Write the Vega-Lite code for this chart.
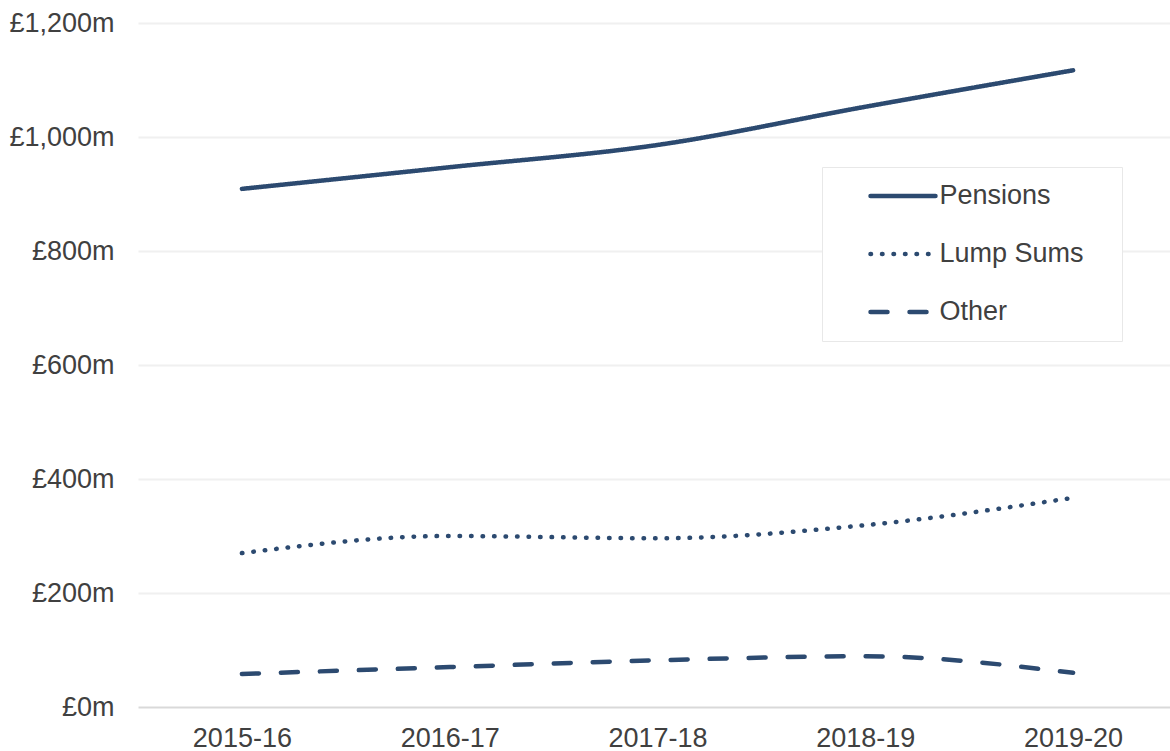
{
  "$schema": "https://vega.github.io/schema/vega-lite/v6.json",
  "width": 1039,
  "height": 684,
  "autosize": {"type": "none"},
  "padding": {"left": 138, "top": 23, "right": 0, "bottom": 44},
  "background": "white",
  "config": {
    "view": {"stroke": null},
    "font": "Liberation Sans"
  },
  "data": {
    "values": [
      {"year": "2015-16", "series": "Pensions", "value": 909},
      {"year": "2016-17", "series": "Pensions", "value": 947},
      {"year": "2017-18", "series": "Pensions", "value": 986},
      {"year": "2018-19", "series": "Pensions", "value": 1053},
      {"year": "2019-20", "series": "Pensions", "value": 1117},
      {"year": "2015-16", "series": "Lump Sums", "value": 270},
      {"year": "2016-17", "series": "Lump Sums", "value": 300},
      {"year": "2017-18", "series": "Lump Sums", "value": 296},
      {"year": "2018-19", "series": "Lump Sums", "value": 319},
      {"year": "2019-20", "series": "Lump Sums", "value": 367},
      {"year": "2015-16", "series": "Other", "value": 58},
      {"year": "2016-17", "series": "Other", "value": 70},
      {"year": "2017-18", "series": "Other", "value": 82},
      {"year": "2018-19", "series": "Other", "value": 89},
      {"year": "2019-20", "series": "Other", "value": 60}
    ]
  },
  "mark": {"type": "line", "interpolate": "monotone", "strokeWidth": 4.5, "strokeCap": "round", "color": "#2c4a70"},
  "encoding": {
    "x": {
      "field": "year", "type": "ordinal",
      "scale": {"type": "point", "padding": 0.5},
      "axis": {
        "title": null, "labelAngle": 0, "domain": false, "ticks": false,
        "labelFontSize": 27, "labelColor": "#404040", "labelPadding": 18, "grid": false
      }
    },
    "y": {
      "field": "value", "type": "quantitative",
      "scale": {"domain": [0, 1200], "nice": false},
      "axis": {
        "title": null, "values": [0, 200, 400, 600, 800, 1000, 1200],
        "labelExpr": "'£' + format(datum.value, ',') + 'm'",
        "domain": false, "ticks": false,
        "labelFontSize": 27, "labelColor": "#404040", "labelPadding": 24,
        "gridColor": {"condition": {"test": "datum.value === 0", "value": "#d9d9d9"}, "value": "#f0f0f0"},
        "gridWidth": 2
      }
    },
    "strokeDash": {
      "field": "series", "type": "nominal",
      "scale": {"domain": ["Pensions", "Lump Sums", "Other"], "range": [[1, 0], [0.5, 11], [17, 22]]},
      "legend": {
        "title": " ", "titleOrient": "right", "titlePadding": 23, "titleFontSize": 10,
        "orient": "none", "legendX": 684, "legendY": 144,
        "symbolType": "M-4,0H4", "symbolSize": 264, "symbolStrokeWidth": 4.5,
        "symbolStrokeColor": "#2c4a70", "labelFontSize": 27, "labelColor": "#404040",
        "labelOffset": 23, "padding": 15.5, "symbolOffset": 52, "rowPadding": 30,
        "strokeColor": "#e8e8e8", "fillColor": "white",
        "encode": {"symbols": {"update": {"strokeCap": {"value": "round"}}}}
      }
    }
  }
}
